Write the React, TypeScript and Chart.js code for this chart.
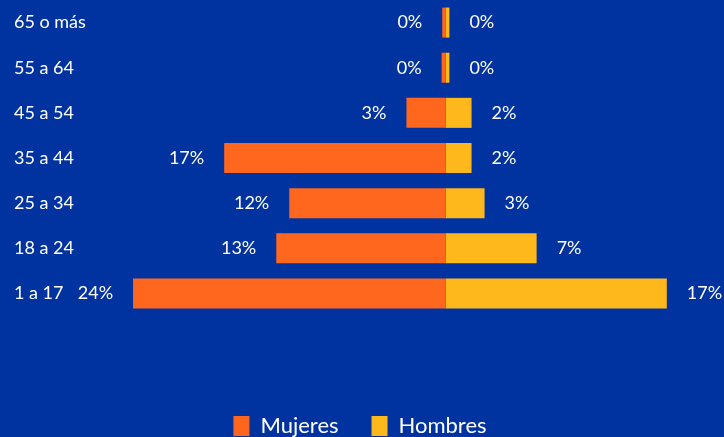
import React, { useEffect, useRef } from "react";
import { Chart, registerables } from "chart.js";

Chart.register(...registerables);

const categories = ["65 o más", "55 a 64", "45 a 54", "35 a 44", "25 a 34", "18 a 24", "1 a 17"];
const mujeres = [0.25, 0.3, 3, 17, 12, 13, 24];
const hombres = [0.3, 0.3, 2, 2, 3, 7, 17];
const mujeresLabels = ["0%", "0%", "3%", "17%", "12%", "13%", "24%"];
const hombresLabels = ["0%", "0%", "2%", "2%", "3%", "7%", "17%"];
const seriesNames = ["Mujeres", "Hombres"];

const BG = "#0033A0";
const ORANGE = "#FF671F";
const YELLOW = "#FFB81C";
const FONT = "Lato, 'Open Sans', sans-serif";

const bgPlugin = {
  id: "bgFill",
  beforeDraw(chart: any) {
    const { ctx, width, height } = chart;
    ctx.save();
    ctx.fillStyle = BG;
    ctx.fillRect(0, 0, width, height);
    ctx.restore();
  },
};

const valueLabels = {
  id: "valueLabels",
  afterDatasetsDraw(chart: any) {
    const { ctx } = chart;
    ctx.save();
    ctx.font = `18px ${FONT}`;
    ctx.fillStyle = "#FFFFFF";
    ctx.textBaseline = "middle";
    chart.data.datasets.forEach((ds: any, di: number) => {
      const meta = chart.getDatasetMeta(di);
      const labels = di === 0 ? mujeresLabels : hombresLabels;
      meta.data.forEach((el: any, i: number) => {
        if (di === 0) {
          ctx.textAlign = "right";
          ctx.fillText(labels[i], el.x - 20, el.y);
        } else {
          ctx.textAlign = "left";
          ctx.fillText(labels[i], el.x + 20, el.y);
        }
      });
    });
    ctx.restore();
  },
};

export default function App() {
  const canvasRef = useRef<HTMLCanvasElement | null>(null);

  useEffect(() => {
    document.body.style.margin = "0";
    document.body.style.background = BG;
    const canvas = canvasRef.current;
    if (!canvas) return;
    const chart = new Chart(canvas, {
      type: "bar",
      data: {
        labels: categories,
        datasets: [
          {
            label: seriesNames[0],
            data: mujeres.map((v) => -v),
            backgroundColor: ORANGE,
            borderWidth: 0,
            barPercentage: 0.665,
            categoryPercentage: 1,
          },
          {
            label: seriesNames[1],
            data: hombres,
            backgroundColor: YELLOW,
            borderWidth: 0,
            barPercentage: 0.665,
            categoryPercentage: 1,
          },
        ],
      },
      options: {
        indexAxis: "y",
        animation: false,
        responsive: true,
        maintainAspectRatio: false,
        layout: { padding: { left: 14, right: 18, top: 0, bottom: 0 } },
        plugins: {
          tooltip: { enabled: false },
          legend: {
            position: "bottom",
            labels: {
              color: "#FFFFFF",
              font: { family: FONT, size: 22 },
              boxWidth: 16,
              boxHeight: 20,
              padding: 33,
            },
          },
        },
        scales: {
          x: {
            stacked: true,
            min: -26.54,
            max: 20.01,
            grid: { display: false },
            border: { display: false },
            ticks: { display: false },
            afterFit: (s: any) => {
              s.height = 66;
            },
          },
          y: {
            stacked: true,
            grid: { display: false },
            border: { display: false },
            ticks: {
              color: "#FFFFFF",
              font: { family: FONT, size: 18 },
              crossAlign: "far",
              padding: 0,
            },
            afterFit: (s: any) => {
              s.width = 86;
              s.paddingTop = 0;
              s.paddingBottom = 0;
            },
          },
        },
      },
      plugins: [bgPlugin, valueLabels],
    } as any);
    return () => chart.destroy();
  }, []);

  return (
    <div style={{ position: "absolute", left: 0, top: 0, width: 724, height: 447, background: BG }}>
      <canvas ref={canvasRef} />
    </div>
  );
}
